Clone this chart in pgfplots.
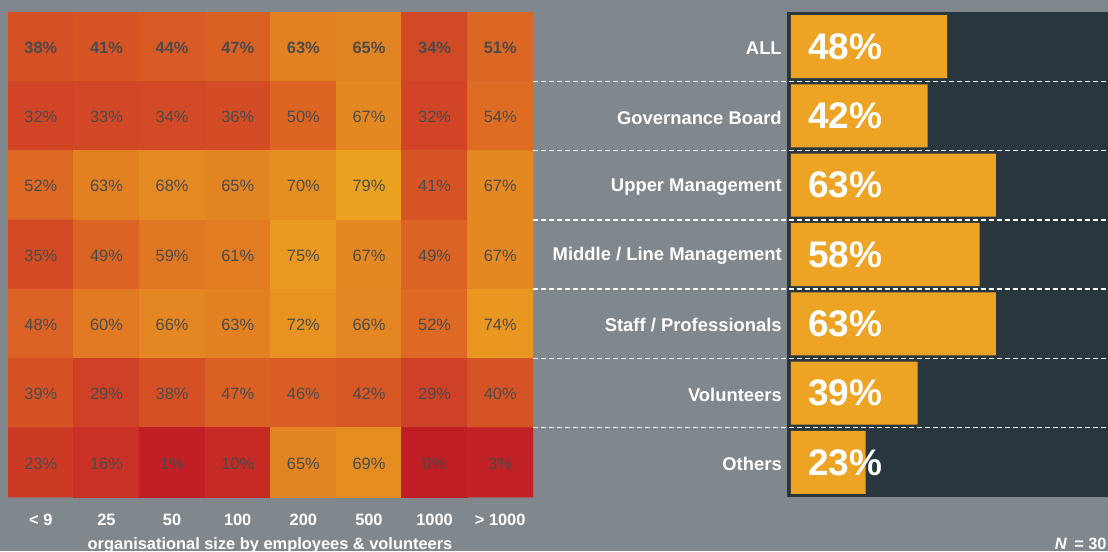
\documentclass[border=0pt]{standalone}
\usepackage{fontspec}
\setmainfont{Liberation Sans}
\usepackage{pgfplots}
\usepackage{pgfplotstable}
\pgfplotsset{compat=1.18}

\definecolor{bgc}{RGB}{128,136,141}
\definecolor{panelc}{RGB}{41,54,62}
\definecolor{barc}{RGB}{237,164,36}
\definecolor{cellt}{RGB}{75,75,75}

% heatmap: x = size class, y = role (0 = ALL at top)
\pgfplotstableread{
x y c
0 0 38
1 0 41
2 0 44
3 0 47
4 0 63
5 0 65
6 0 34
7 0 51
0 1 32
1 1 33
2 1 34
3 1 36
4 1 50
5 1 67
6 1 32
7 1 54
0 2 52
1 2 63
2 2 68
3 2 65
4 2 70
5 2 79
6 2 41
7 2 67
0 3 35
1 3 49
2 3 59
3 3 61
4 3 75
5 3 67
6 3 49
7 3 67
0 4 48
1 4 60
2 4 66
3 4 63
4 4 72
5 4 66
6 4 52
7 4 74
0 5 39
1 5 29
2 5 38
3 5 47
4 5 46
5 5 42
6 5 29
7 5 40
0 6 23
1 6 16
2 6 1
3 6 10
4 6 65
5 6 69
6 6 0
7 6 3
}\heat

\pgfplotstableread{
y v
0 48
1 42
2 63
3 58
4 63
5 39
6 23
}\bars

\begin{document}
\begin{tikzpicture}
\useasboundingbox (0,0) rectangle (831pt,413.25pt);
\clip (0,0) rectangle (831pt,413.25pt);
\fill[bgc] (0,0) rectangle (831pt,413.25pt);

\begin{axis}[
  at={(6pt,40.5pt)}, anchor=south west,
  width=393.75pt, height=363.75pt, scale only axis,
  xmin=-0.5, xmax=7.5, ymin=-0.5, ymax=6.5, y dir=reverse,
  enlargelimits=false,
  /pgf/number format/assume math mode=true,
  axis line style={draw=none}, major tick length=0pt,
  xtick={0,...,7},
  xticklabels={< 9,25,50,100,200,500,1000,> 1000},
  ytick=\empty,
  xticklabel style={font=\fontsize{12.3}{14}\selectfont\bfseries, text=white, anchor=base, yshift=-21pt},
  colormap={heat}{rgb255(0cm)=(192,30,37); rgb255(30cm)=(208,66,38); rgb255(50cm)=(220,101,36); rgb255(65cm)=(227,132,34); rgb255(80cm)=(237,164,32)},
  point meta min=0, point meta max=80,
]
  \addplot[matrix plot*, mesh/cols=8, mesh/rows=7, point meta=explicit]
    table[x=x, y=y, meta=c] {\heat};
  \addplot[only marks, mark=none, point meta=explicit,
    restrict y to domain=-0.5:0.5,
    nodes near coords={\pgfmathprintnumber[fixed,precision=0,assume math mode=true]{\pgfplotspointmeta}\%},
    nodes near coords align=center,
    every node near coord/.append style={font=\fontsize{12.3}{14}\selectfont\bfseries, text=cellt, yshift=-0.8pt}]
    table[x=x, y=y, meta=c] {\heat};
  \addplot[only marks, mark=none, point meta=explicit,
    restrict y to domain=0.5:6.5,
    nodes near coords={\pgfmathprintnumber[fixed,precision=0,assume math mode=true]{\pgfplotspointmeta}\%},
    nodes near coords align=center,
    every node near coord/.append style={font=\fontsize{12.3}{14}\selectfont, text=cellt, yshift=-0.8pt}]
    table[x=x, y=y, meta=c] {\heat};
\end{axis}

\begin{axis}[
  at={(590.25pt,40.5pt)}, anchor=south west,
  width=240.75pt, height=363.75pt, scale only axis,
  xmin=-1.2, xmax=97.5, ymin=-0.5, ymax=6.5, y dir=reverse,
  /pgf/number format/assume math mode=true,
  axis line style={draw=none}, major tick length=0pt,
  axis background/.style={fill=panelc},
  xtick=\empty, ytick={0,...,6},
  yticklabels={ALL,Governance Board,Upper Management,Middle / Line Management,Staff / Professionals,Volunteers,Others},
  yticklabel style={font=\fontsize{13.8}{16}\selectfont\bfseries, text=white, inner xsep=0pt, xshift=-3.75pt, yshift=-1.2pt},
  clip=false,
]
  \addplot[xbar, bar width=0.91, fill=barc, draw=none] table[x=v, y=y] {\bars};
  \addplot[only marks, mark=none, point meta=explicit,
    nodes near coords={\pgfmathprintnumber[assume math mode=true]{\pgfplotspointmeta}\%},
    nodes near coords align=horizontal,
    every node near coord/.append style={font=\fontsize{27.75}{30}\selectfont\bfseries, text=white, inner sep=0pt}]
    table[x expr=5.2, y=y, meta=v] {\bars};
  \draw[white, line width=1pt, dash pattern=on 4pt off 2pt] (axis cs:-79.4,0.5) -- (axis cs:97.5,0.5);
  \draw[white, line width=1pt, dash pattern=on 4pt off 2pt] (axis cs:-79.4,1.5) -- (axis cs:97.5,1.5);
  \draw[white, line width=1pt, dash pattern=on 4pt off 2pt] (axis cs:-79.4,2.5) -- (axis cs:97.5,2.5);
  \draw[white, line width=1pt, dash pattern=on 4pt off 2pt] (axis cs:-79.4,3.5) -- (axis cs:97.5,3.5);
  \draw[white, line width=1pt, dash pattern=on 4pt off 2pt] (axis cs:-79.4,4.5) -- (axis cs:97.5,4.5);
  \draw[white, line width=1pt, dash pattern=on 4pt off 2pt] (axis cs:-79.4,5.5) -- (axis cs:97.5,5.5);
\end{axis}

\node[anchor=base, text=white, font=\fontsize{12.3}{14}\selectfont\bfseries] at (202.5pt,1.5pt)
  {organisational size by employees \& volunteers};
\node[anchor=base east, text=white, font=\fontsize{12.3}{14}\selectfont\bfseries] at (833.5pt,1.5pt)
  {\textit{N}\, = 30};
\end{tikzpicture}
\end{document}
